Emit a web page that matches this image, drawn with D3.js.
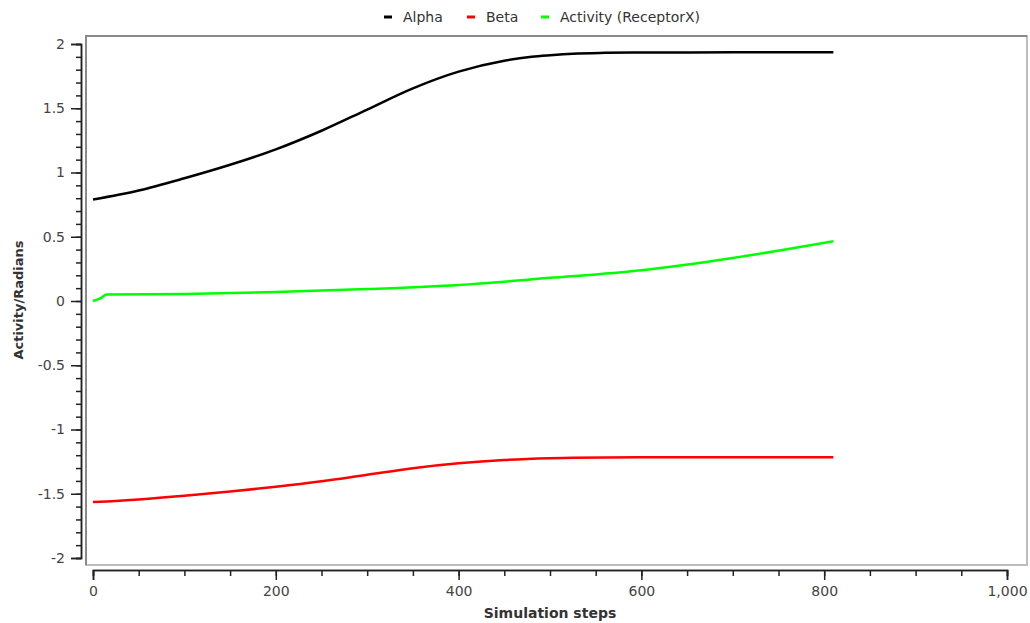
<!DOCTYPE html>
<html>
<head>
<meta charset="utf-8">
<script src="https://cdn.jsdelivr.net/npm/d3@7"></script>
<style>
  body { margin: 0; background: #fff; }
  text { font-family: "DejaVu Sans", sans-serif; }
</style>
</head>
<body>
<svg id="chart" width="1030" height="623"></svg>
<script>
// series data
var alphaSteps = [0, 50, 100, 150, 200, 250, 300, 350, 400, 450, 480, 500, 525, 560, 600, 700, 810];
var alphaVals  = [0.79, 0.86, 0.955, 1.06, 1.18, 1.325, 1.49, 1.655, 1.785, 1.87, 1.9, 1.912, 1.924, 1.931, 1.934, 1.935, 1.935];

var betaSteps = [0, 50, 100, 150, 200, 250, 300, 350, 400, 450, 500, 525, 600, 700, 810];
var betaVals  = [-1.565, -1.544, -1.516, -1.483, -1.446, -1.403, -1.352, -1.301, -1.263, -1.237, -1.223, -1.219, -1.216, -1.216, -1.216];

var actSteps = [0, 8, 15, 100, 200, 300, 400, 500, 600, 700, 810];
var actVals  = [0.0, 0.02, 0.05, 0.055, 0.07, 0.093, 0.125, 0.18, 0.24, 0.335, 0.465];

var seriesNames  = ["Alpha", "Beta", "Activity (ReceptorX)"];
var seriesColors = ["#000000", "#ff0000", "#00ff00"];

var yMajor = [-2, -1.5, -1, -0.5, 0, 0.5, 1, 1.5, 2];
var xMajor = [0, 200, 400, 600, 800, 1000];

var svg = d3.select("#chart");

var x = d3.scaleLinear().domain([0, 1000]).range([93, 1007]);
var y = d3.scaleLinear().domain([-2, 2]).range([558, 44]);

// plot frame (inset look)
svg.append("rect").attr("x", 86).attr("y", 36).attr("width", 941).attr("height", 529)
  .attr("fill", "#fff").attr("stroke", "#bdbdbd").attr("stroke-width", 2);
svg.append("path").attr("d", "M86,565V36H1027")
  .attr("fill", "none").attr("stroke", "#8a8a8a").attr("stroke-width", 2);

// y axis, minor ticks in their own group so the major call doesn't wipe them
var yAxisMinor = d3.axisLeft(y).tickValues(d3.range(-20, 21).map(function(d) { return d / 10; }))
  .tickSize(5).tickFormat("");
var yAxis = d3.axisLeft(y).tickValues(yMajor).tickSize(10).tickPadding(6)
  .tickFormat(function(d) { return String(d); });

svg.append("g").attr("transform", "translate(81,0)").call(yAxisMinor);
svg.append("g").attr("transform", "translate(81,0)").call(yAxis);

// x axis
var xAxisMinor = d3.axisBottom(x).tickValues(d3.range(0, 1001, 50)).tickSize(6).tickFormat("");
var xAxis = d3.axisBottom(x).tickValues(xMajor).tickSize(10).tickPadding(6).tickFormat(d3.format(","));

svg.append("g").attr("transform", "translate(0,570)").call(xAxisMinor);
svg.append("g").attr("transform", "translate(0,570)").call(xAxis);

svg.selectAll(".domain").attr("stroke", "#222").attr("stroke-width", 1.5);
svg.selectAll(".tick line").attr("stroke", "#222").attr("stroke-width", 1.5);
svg.selectAll(".tick text").attr("font-size", 14).attr("fill", "#444")
  .attr("font-family", "DejaVu Sans, sans-serif");

// axis titles
svg.append("text").attr("x", 550).attr("y", 618).attr("text-anchor", "middle")
  .attr("font-size", 14).attr("font-weight", "bold").attr("fill", "#333")
  .text("Simulation steps");
svg.append("text").attr("transform", "translate(23,300) rotate(-90)").attr("text-anchor", "middle")
  .attr("font-size", 13).attr("font-weight", "bold").attr("fill", "#333")
  .text("Activity/Radians");

// lines
var line = d3.line()
  .curve(d3.curveMonotoneX)
  .x(function(d) { return x(d[0]); })
  .y(function(d) { return y(d[1]); });

var series = [
  d3.zip(alphaSteps, alphaVals),
  d3.zip(betaSteps, betaVals),
  d3.zip(actSteps, actVals)
];

series.forEach(function(s, i) {
  svg.append("path")
    .datum(s)
    .attr("d", line)
    .attr("fill", "none")
    .attr("stroke", seriesColors[i])
    .attr("stroke-width", 2.5);
});

// legend
var legendX = [384, 467, 541];
var legend = svg.append("g").attr("class", "legend");
seriesNames.forEach(function(name, i) {
  legend.append("line")
    .attr("x1", legendX[i]).attr("x2", legendX[i] + 8)
    .attr("y1", 17).attr("y2", 17)
    .attr("stroke", seriesColors[i]).attr("stroke-width", 3);
  legend.append("text")
    .attr("x", legendX[i] + 19).attr("y", 22)
    .attr("font-size", 14).attr("fill", "#333")
    .text(name);
});
</script>
</body>
</html>
